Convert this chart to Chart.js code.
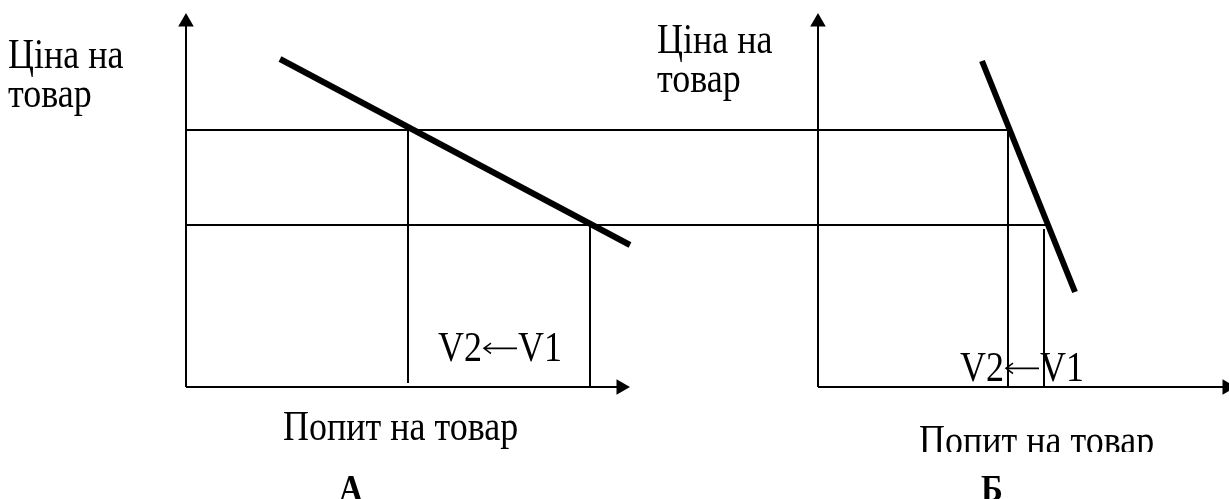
<!DOCTYPE html>
<html>
<head>
<meta charset="utf-8">
<script src="https://cdn.jsdelivr.net/npm/chart.js@4/dist/chart.umd.min.js"></script>
<style>
  html, body { margin: 0; padding: 0; background: #fff; }
  #wrap { width: 1229px; height: 499px; position: relative; }
</style>
</head>
<body>
<div id="wrap"><canvas id="chart-popyt"></canvas></div>
<script>
// рівні ціни: P1 (вища), P2 (нижча)
const priceLevels = [25.7, 16.2];
// обсяг попиту при P1 і P2 (V2, V1)
const demandA_q = [22.2, 40.4];
const demandB_q = [19.0, 22.6];
// кінці лінії попиту [обсяг, ціна]
const demandA_line = [[9.4, 32.8], [44.4, 14.2]];
const demandB_line = [[16.4, 32.6], [25.7, 9.5]];
// осі
const axisTop = 36.5;
const axisEndA = 43.5;
const axisEndB = 40.9;
const offsetB = 63.2;   // початок координат графіка Б

const black = '#000';

function seg(points, width, arrowRot) {
  return {
    data: points.map(p => ({ x: p[0], y: p[1] })),
    showLine: true,
    borderColor: black,
    borderWidth: width,
    pointRadius: arrowRot === undefined ? 0 : [0, 9],
    pointStyle: 'triangle',
    rotation: arrowRot || 0,
    pointBackgroundColor: black,
    pointBorderWidth: 0,
    borderCapStyle: 'butt',
  };
}

const datasets = [];
// осі А і Б
[0, offsetB].forEach((o, i) => {
  datasets.push(seg([[o, 0], [o, axisTop]], 2, 0));
  datasets.push(seg([[o, 0], [o + (i ? axisEndB : axisEndA), 0]], 2, 90));
});
// горизонталі цін - через обидва графіки
datasets.push(seg([[0, priceLevels[0]], [offsetB + demandB_q[0], priceLevels[0]]], 2));
datasets.push(seg([[0, priceLevels[1]], [offsetB + demandB_q[1] + 0.4, priceLevels[1]]], 2));
// вертикалі обсягів
datasets.push(seg([[demandA_q[0], priceLevels[0]], [demandA_q[0], 0.4]], 2));
datasets.push(seg([[demandA_q[1], priceLevels[1]], [demandA_q[1], -0.1]], 2));
datasets.push(seg([[offsetB + demandB_q[0], priceLevels[0]], [offsetB + demandB_q[0], -0.1]], 2));
datasets.push(seg([[offsetB + demandB_q[1], priceLevels[1] - 0.4], [offsetB + demandB_q[1], -0.1]], 2));
// лінії попиту
datasets.push(seg(demandA_line, 6));
datasets.push(seg(demandB_line.map(p => [p[0] + offsetB, p[1]]), 6));

const serif = '"Liberation Serif", "Times New Roman", serif';
const stretch = 1.15;  // текст у зразку трохи витягнутий по вертикалі
const texts = [
  { t: 'Ціна на', x: -17.8, y: 31.9 },
  { t: 'товар', x: -17.8, y: 28.0 },
  { t: 'Ціна на', x: 47.1, y: 33.4 },
  { t: 'товар', x: 47.1, y: 29.5 },
  { t: 'Попит на товар', x: 9.7, y: -5.3 },
  { t: 'Попит на товар', x: 73.3, y: -6.7, clip: -6.5 },
  { t: 'А', x: 16.5, y: -11.4, bold: true, center: true },
  { t: 'Б', x: 80.6, y: -11.4, bold: true, center: true },
];
// підписи V2←V1 (початок тексту)
const arrowLabels = [{ x: 25.2, y: 2.6 }, { x: 77.4, y: 0.6 }];

const napysy = {
  id: 'napysy',
  afterDatasetsDraw(chart) {
    const { ctx, scales: { x, y } } = chart;
    ctx.save();
    ctx.fillStyle = black;
    ctx.textBaseline = 'alphabetic';
    texts.forEach(o => {
      ctx.save();
      if (o.clip !== undefined) {
        ctx.beginPath();
        ctx.rect(0, 0, chart.width, y.getPixelForValue(o.clip));
        ctx.clip();
      }
      ctx.translate(x.getPixelForValue(o.x), y.getPixelForValue(o.y));
      ctx.scale(1, stretch);
      ctx.textAlign = o.center ? 'center' : 'left';
      ctx.font = (o.bold ? 'bold 33px ' : '36px ') + serif;
      ctx.fillText(o.t, 0, 0);
      ctx.restore();
    });
    // V2 ← V1 : довга тонка стрілка між позначками
    arrowLabels.forEach(o => {
      ctx.save();
      ctx.translate(x.getPixelForValue(o.x), y.getPixelForValue(o.y));
      ctx.scale(1, stretch);
      ctx.textAlign = 'left';
      ctx.font = '36px ' + serif;
      ctx.fillText('V2', 0, 0);
      const px = ctx.measureText('V2').width + 1;
      const ay = -11, aw = 34;
      ctx.strokeStyle = black;
      ctx.lineWidth = 1.4;
      ctx.beginPath();
      ctx.moveTo(px + 1, ay);
      ctx.lineTo(px + aw, ay);
      ctx.moveTo(px + 8, ay - 4.5);
      ctx.lineTo(px + 1, ay);
      ctx.lineTo(px + 8, ay + 4.5);
      ctx.stroke();
      ctx.fillText('V1', px + aw + 1, 0);
      ctx.restore();
    });
    ctx.restore();
  }
};

new Chart(document.getElementById('chart-popyt'), {
  type: 'scatter',
  data: { datasets: datasets },
  options: {
    responsive: true,
    maintainAspectRatio: false,
    animation: false,
    events: [],
    layout: { padding: 0, autoPadding: false },
    scales: {
      x: { type: 'linear', min: -18.6, max: 104.3, display: false },
      y: { type: 'linear', min: -11.2, max: 38.7, display: false },
    },
    plugins: {
      legend: { display: false },
      tooltip: { enabled: false },
    },
  },
  plugins: [napysy],
});
</script>
</body>
</html>
